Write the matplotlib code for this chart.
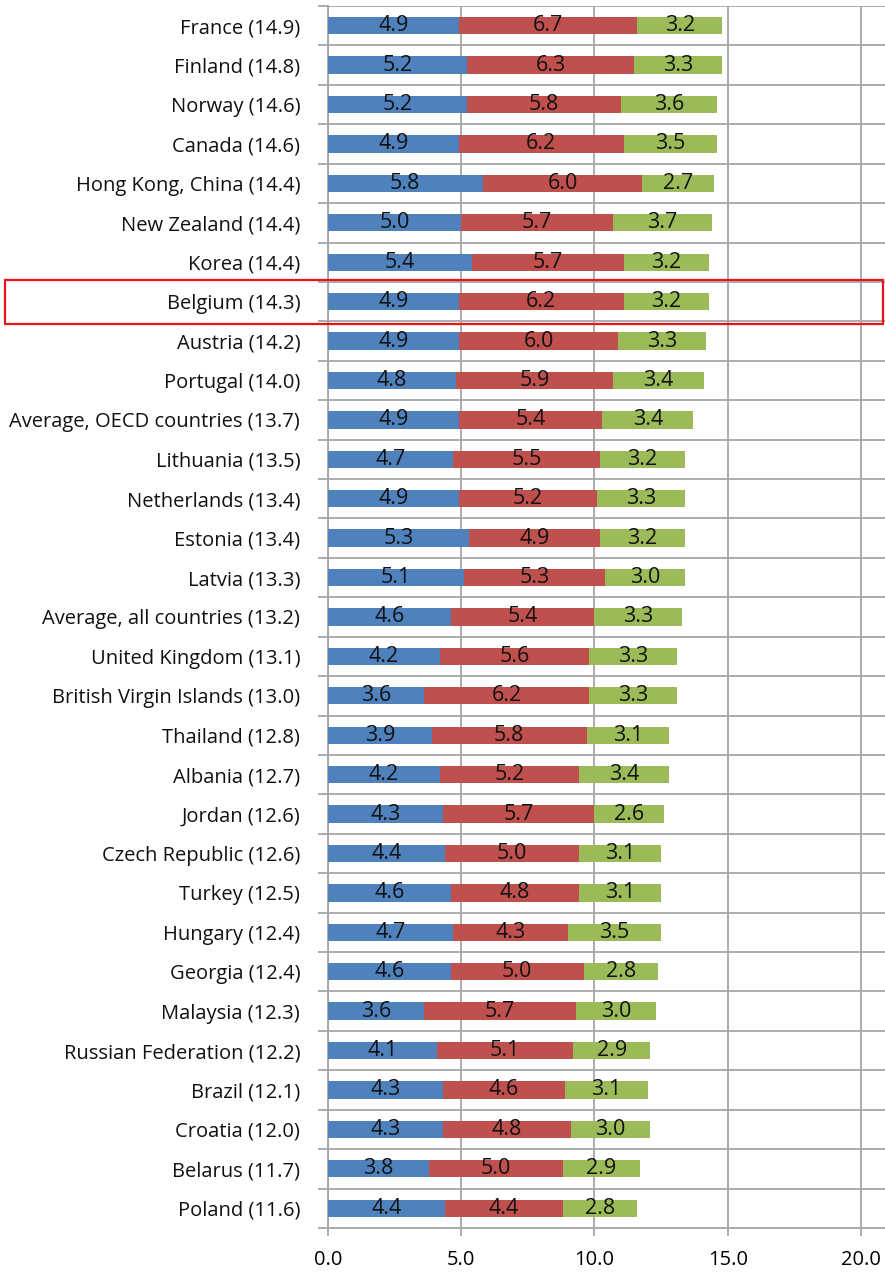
import matplotlib
matplotlib.use('Agg')
import matplotlib.pyplot as plt
import matplotlib.transforms as mtransforms
from matplotlib.patches import Rectangle
from matplotlib.ticker import FixedLocator
import numpy as np

plt.rcParams['font.family'] = ['Open Sans', 'DejaVu Sans']

# --- data ---
countries = ['France', 'Finland', 'Norway', 'Canada', 'Hong Kong, China', 'New Zealand',
             'Korea', 'Belgium', 'Austria', 'Portugal', 'Average, OECD countries',
             'Lithuania', 'Netherlands', 'Estonia', 'Latvia', 'Average, all countries',
             'United Kingdom', 'British Virgin Islands', 'Thailand', 'Albania', 'Jordan',
             'Czech Republic', 'Turkey', 'Hungary', 'Georgia', 'Malaysia',
             'Russian Federation', 'Brazil', 'Croatia', 'Belarus', 'Poland']
totals = [14.9, 14.8, 14.6, 14.6, 14.4, 14.4, 14.4, 14.3, 14.2, 14.0, 13.7,
          13.5, 13.4, 13.4, 13.3, 13.2, 13.1, 13.0, 12.8, 12.7, 12.6,
          12.6, 12.5, 12.4, 12.4, 12.3, 12.2, 12.1, 12.0, 11.7, 11.6]
part1 = [4.9, 5.2, 5.2, 4.9, 5.8, 5.0, 5.4, 4.9, 4.9, 4.8, 4.9,
         4.7, 4.9, 5.3, 5.1, 4.6, 4.2, 3.6, 3.9, 4.2, 4.3,
         4.4, 4.6, 4.7, 4.6, 3.6, 4.1, 4.3, 4.3, 3.8, 4.4]
part2 = [6.7, 6.3, 5.8, 6.2, 6.0, 5.7, 5.7, 6.2, 6.0, 5.9, 5.4,
         5.5, 5.2, 4.9, 5.3, 5.4, 5.6, 6.2, 5.8, 5.2, 5.7,
         5.0, 4.8, 4.3, 5.0, 5.7, 5.1, 4.6, 4.8, 5.0, 4.4]
part3 = [3.2, 3.3, 3.6, 3.5, 2.7, 3.7, 3.2, 3.2, 3.3, 3.4, 3.4,
         3.2, 3.3, 3.2, 3.0, 3.3, 3.3, 3.3, 3.1, 3.4, 2.6,
         3.1, 3.1, 3.5, 2.8, 3.0, 2.9, 3.1, 3.0, 2.9, 2.8]
highlight = 'Belgium'

colors = ['#4F81BD', '#C0504D', '#9BBB59']
labels = [f'{c} ({t:.1f})' for c, t in zip(countries, totals)]

fig = plt.figure(figsize=(8.85, 12.75), dpi=100)
ax = fig.add_axes([0.3706, 0.0369, 0.6294, 0.9584])

y = np.arange(len(countries))
left = np.zeros(len(countries))
for vals, col in zip([part1, part2, part3], colors):
    vals = np.array(vals)
    bars = ax.barh(y, vals, left=left, height=0.44, color=col, zorder=3)
    for b, v in zip(bars, vals):
        ax.text(b.get_x() + b.get_width() / 2, b.get_y() + b.get_height() / 2,
                f'{v:.1f}', ha='center', va='center', fontsize=15.5, color='#111111', zorder=4)
    left += vals

ax.set_xlim(0, 20.9)
ax.set_ylim(len(countries) - 0.5, -0.5)
ax.set_xticks([0, 5, 10, 15, 20])
ax.set_xticklabels(['0.0', '5.0', '10.0', '15.0', '20.0'], fontsize=14.5)
ax.set_yticks(y)
ax.set_yticklabels(labels, fontsize=14.5, color='#111111')
ax.yaxis.set_minor_locator(FixedLocator(np.arange(-0.5, len(countries), 1.0)))
ax.tick_params(axis='y', which='major', length=0, pad=20)
ax.tick_params(axis='y', which='minor', length=7, width=1.3, color='#A6A6A6')
ax.tick_params(axis='x', which='major', length=6, width=1.3, color='#A6A6A6', pad=10)
ax.grid(axis='x', color='#A6A6A6', linewidth=1.3, zorder=0)
ax.grid(axis='y', which='minor', color='#A6A6A6', linewidth=1.3, zorder=0)
for s in ['top', 'right']:
    ax.spines[s].set_visible(False)
for s in ['left', 'bottom']:
    ax.spines[s].set_color('#A6A6A6')
    ax.spines[s].set_linewidth(1.3)
ax.set_axisbelow(True)

# red box around the highlighted row
hi = countries.index(highlight)
trans = mtransforms.blended_transform_factory(fig.transFigure, ax.transData)
ax.add_patch(Rectangle((0.006, hi - 0.56), 0.992, 1.12, transform=trans,
                       fill=False, edgecolor='#E8141B', linewidth=1.6, clip_on=False, zorder=5))

fig.savefig('out.png', dpi=100)
